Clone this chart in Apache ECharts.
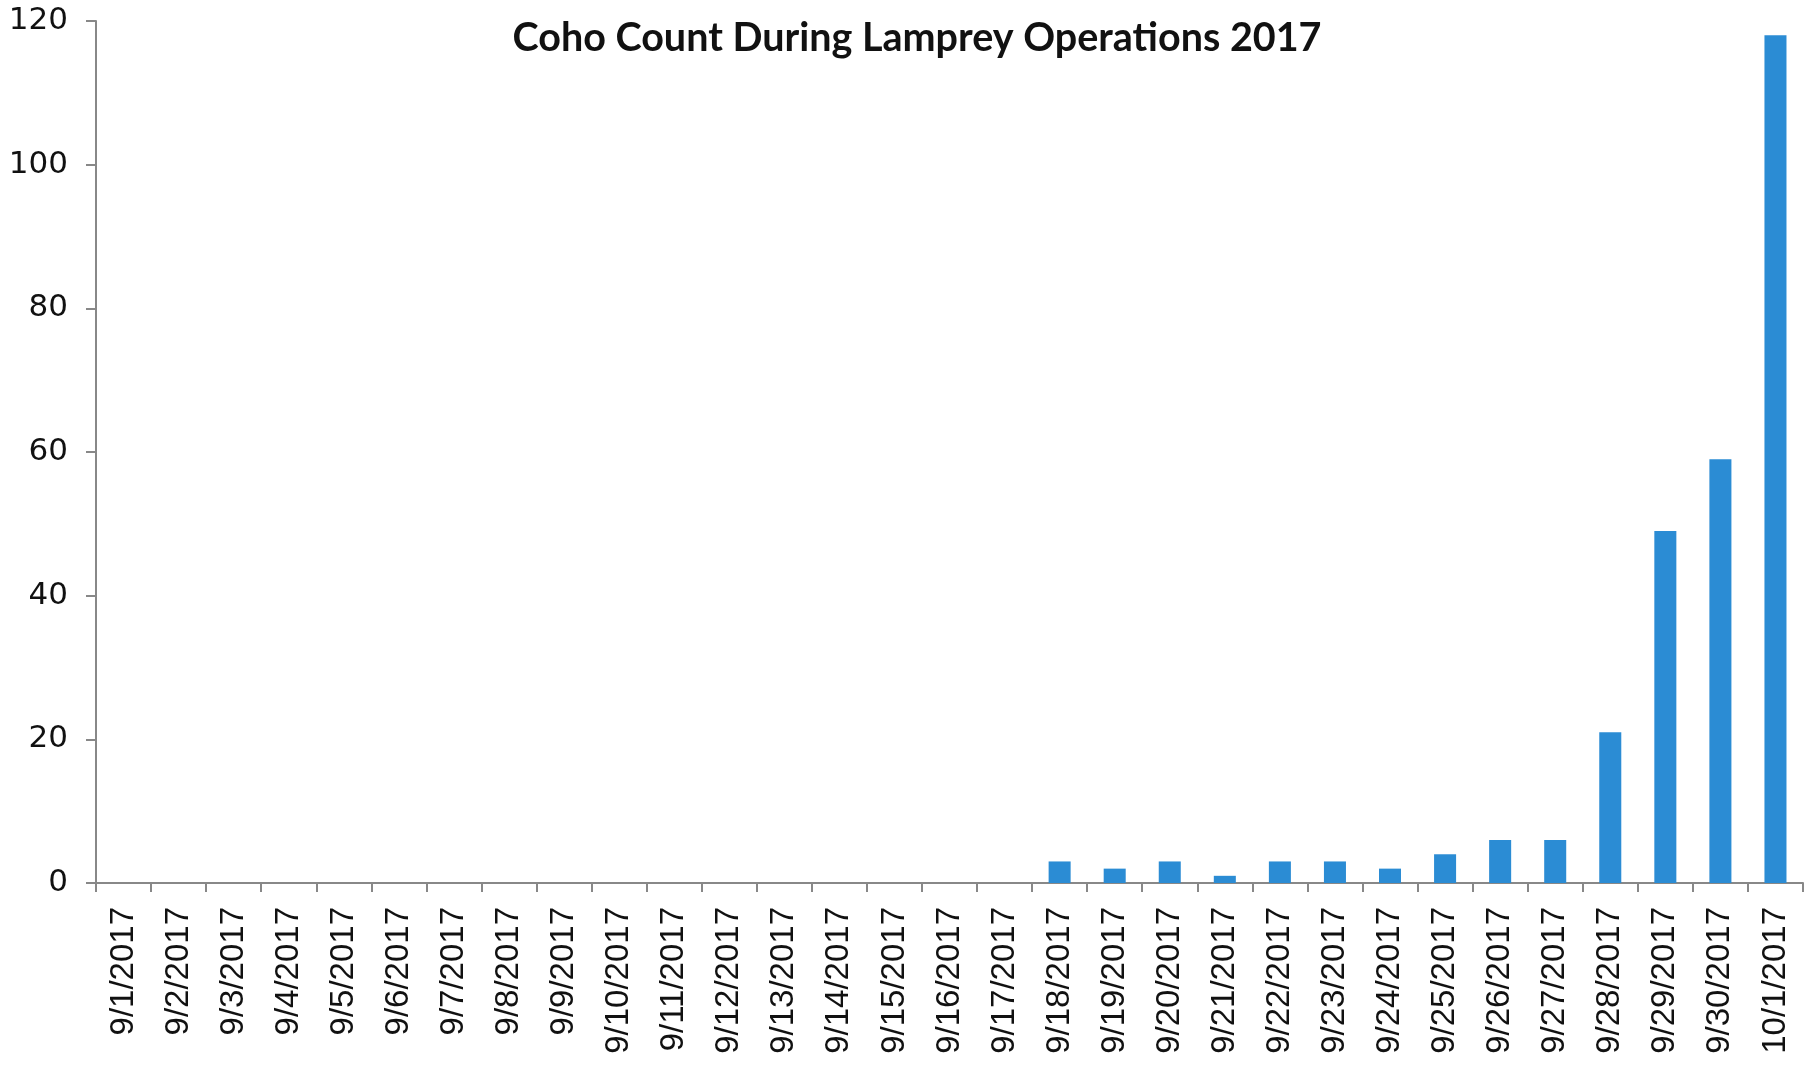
<!DOCTYPE html>
<html><head><meta charset="utf-8">
<script src="https://cdn.jsdelivr.net/npm/echarts@6/dist/echarts.min.js"></script>
<style>html,body{margin:0;padding:0;background:#fff}#c{width:1807px;height:1070px}</style>
</head><body><div id="c"></div>
<script>
const categories = ['9/1/2017','9/2/2017','9/3/2017','9/4/2017','9/5/2017','9/6/2017','9/7/2017','9/8/2017','9/9/2017','9/10/2017','9/11/2017','9/12/2017','9/13/2017','9/14/2017','9/15/2017','9/16/2017','9/17/2017','9/18/2017','9/19/2017','9/20/2017','9/21/2017','9/22/2017','9/23/2017','9/24/2017','9/25/2017','9/26/2017','9/27/2017','9/28/2017','9/29/2017','9/30/2017','10/1/2017'];
const cohoCount = [0,0,0,0,0,0,0,0,0,0,0,0,0,0,0,0,0,3,2,3,1,3,3,2,4,6,6,21,49,59,118];
const yTicks = [0,20,40,60,80,100,120];
const titleText = 'Coho Count During Lamprey Operations 2017';

const chart = echarts.init(document.getElementById('c'));
chart.setOption({
  backgroundColor: '#ffffff',
  animation: false,
  title: {
    text: titleText, left: 912, top: 13, textAlign: 'center',
    textStyle: {fontFamily: 'Lato', fontWeight: 'bold', fontSize: 39.5, color: '#111'}
  },
  grid: {left: 96, right: 4, top: 21, bottom: 187, containLabel: false},
  xAxis: {
    type: 'category', data: categories, boundaryGap: true,
    axisLine: {lineStyle: {color: '#888', width: 2}},
    axisTick: {show: true, length: 9, alignWithLabel: false, lineStyle: {color: '#888', width: 2}},
    axisLabel: {rotate: 90, interval: 0, margin: 24, color: '#111', fontFamily: 'Liberation Sans Narrow, Liberation Sans', fontSize: 33}
  },
  yAxis: {
    type: 'value', min: yTicks[0], max: yTicks[yTicks.length-1], interval: 20,
    splitLine: {show: false},
    axisLine: {show: true, lineStyle: {color: '#888', width: 2}},
    axisTick: {show: true, length: 10, lineStyle: {color: '#888', width: 2}},
    axisLabel: {margin: 28, color: '#111', fontFamily: 'DejaVu Sans', fontSize: 31}
  },
  series: [{
    type: 'bar', data: cohoCount, barWidth: '40%',
    itemStyle: {color: '#2b8cd4', borderWidth: 0}
  }]
});
</script></body></html>
